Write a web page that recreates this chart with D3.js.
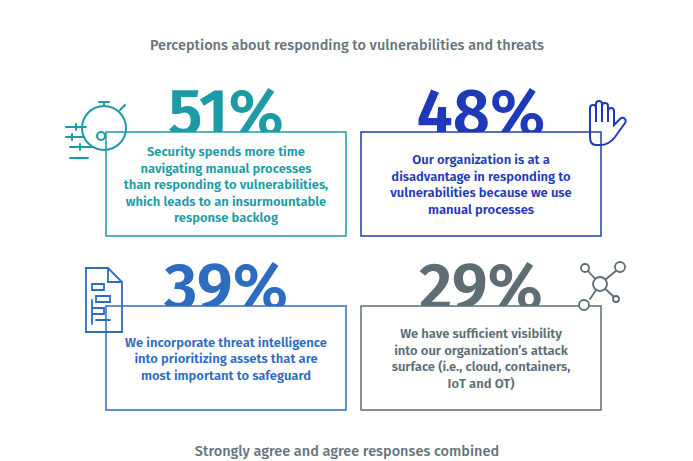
<!DOCTYPE html>
<html><head><meta charset="utf-8">
<script src="https://cdn.jsdelivr.net/npm/d3@7"></script>
<style>body{margin:0;background:#fff}</style></head>
<body><div id="c"></div>
<script>
const title = "Perceptions about responding to vulnerabilities and threats";
const footer = "Strongly agree and agree responses combined";
const values = [51, 48, 39, 29];
const colors = ["#1c9aa6", "#1f3ab8", "#2d6cc0", "#5c6d75"];
const texts = [
 ["Security spends more time","navigating manual processes","than responding to vulnerabilities,","which leads to an insurmountable","response backlog"],
 ["Our organization is at a","disadvantage in responding to","vulnerabilities because we use","manual processes"],
 ["We incorporate threat intelligence","into prioritizing assets that are","most important to safeguard"],
 ["We have sufficient visibility","into our organization\u2019s attack","surface (i.e., cloud, containers,","IoT and OT)"]
];
const W=693,H=461;
const svg=d3.select("#c").append("svg").attr("width",W).attr("height",H);
const font="'Fira Sans','Noto Sans',sans-serif";
svg.append("text").attr("x",347).attr("y",50).attr("text-anchor","middle").attr("font-family",font)
 .attr("font-size",14.5).attr("font-weight",500).attr("fill","#66737c").text(title);
svg.append("text").attr("x",347).attr("y",456).attr("text-anchor","middle").attr("font-family",font)
 .attr("font-size",14.5).attr("font-weight",500).attr("fill","#66737c").text(footer);
const col=d3.scaleOrdinal().domain([0,1]).range([106,361]);
const row=d3.scaleOrdinal().domain([0,1]).range([132,306]);
const bw=240,bh=104;
values.forEach((v,i)=>{
 const x=col(i%2),y=row(Math.floor(i/2)),c=colors[i];
 const g=svg.append("g");
 g.append("text").attr("x",x+bw/2).attr("y",y+3).attr("text-anchor","middle").attr("font-family",font)
  .attr("font-size",65).attr("font-weight",600).attr("fill",c).text(v+"%");
 g.append("rect").attr("x",x).attr("y",y).attr("width",bw).attr("height",bh).attr("fill","#fff").attr("stroke",c).attr("stroke-width",1.5);
 const L=texts[i],lh=16.5;
 const y0=y+bh/2-(L.length-1)*lh/2+5;
 L.forEach((t,j)=>g.append("text").attr("x",x+bw/2).attr("y",y0+j*lh).attr("text-anchor","middle")
  .attr("font-family",font).attr("font-size",13).attr("font-weight",600).attr("fill",c).text(t));
});
const ic=svg.append("g").attr("fill","none").attr("stroke-width",2).attr("stroke-linecap","round");
const s=ic.append("g").attr("stroke",colors[0]);
s.append("circle").attr("cx",104).attr("cy",128).attr("r",22);
s.append("path").attr("d","M99,102 h10 M104,102 v4 M120,110 l5,-5");
s.append("circle").attr("cx",101).attr("cy",136).attr("r",4);
s.append("path").attr("d","M66,127 h20 M66,137 h18 M70,147 h22 M76,124 v6 M72,134 v6 M80,144 v6 M70,158 h18");
ic.append("path").attr("stroke",colors[1]).attr("d","M590,130 v-22 a3,3 0 0,1 6,0 v14 v-18 a3,3 0 0,1 6,0 v18 v-16 a3,3 0 0,1 6,0 v16 v-11 a3,3 0 0,1 6,0 v14 l6,-6 a3,3 0 0,1 5,4 l-10,14 q-6,8 -15,8 h-4 q-6,0 -6,-8 z");
const d=ic.append("g").attr("stroke",colors[2]).attr("stroke-width",1.8);
d.append("path").attr("d","M86,268 h22 l14,14 v50 h-36 z M108,268 v14 h14");
d.append("path").attr("d","M92,284 h12 v6 h-12 z M96,296 h14 v6 h-14 z M92,308 h12 v6 h-12 z M96,320 h14 M92,300 v24");
const n=ic.append("g").attr("stroke",colors[3]).attr("stroke-width",1.8);
n.append("path").attr("d","M600,284 L587,270 M600,284 L617,270 M600,284 L614,297 M600,284 L590,299");
n.append("circle").attr("cx",600).attr("cy",284).attr("r",7).attr("fill","#fff");
[[585,268,4],[620,267,5],[616,299,3],[584,305,5]].forEach(p=>n.append("circle").attr("cx",p[0]).attr("cy",p[1]).attr("r",p[2]).attr("fill","#fff"));
</script></body></html>
